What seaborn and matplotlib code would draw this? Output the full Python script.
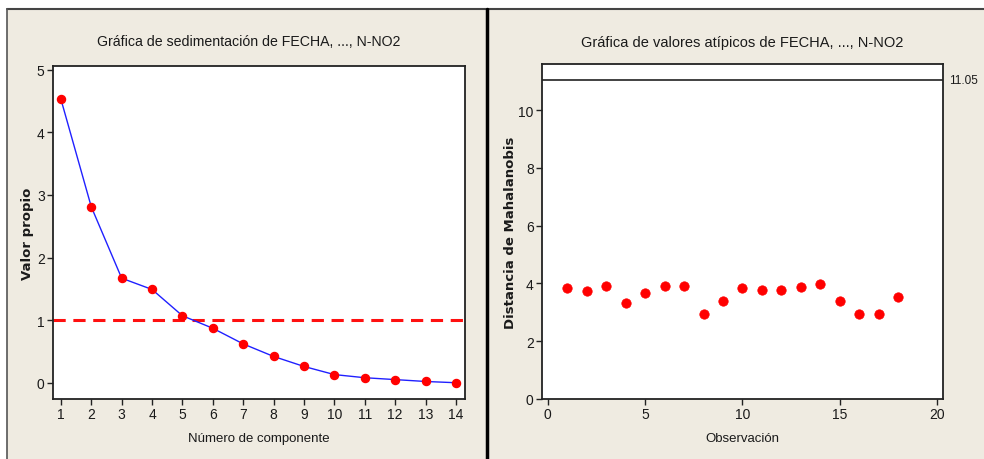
import matplotlib
matplotlib.use("Agg")
import matplotlib.pyplot as plt
import seaborn as sns
import pandas as pd
from matplotlib.patches import Rectangle
from matplotlib.lines import Line2D

# ---- data ----
componentes = list(range(1, 15))
valores_propios = [4.53, 2.81, 1.67, 1.49, 1.07, 0.87, 0.62, 0.42, 0.26, 0.13, 0.08, 0.05, 0.02, 0.00]
linea_ref_propio = 1.0

observaciones = list(range(1, 19))
distancias = [3.85, 3.74, 3.93, 3.32, 3.68, 3.93, 3.91, 2.95, 3.40, 3.83,
              3.77, 3.77, 3.89, 3.98, 3.40, 2.93, 2.93, 3.54]
limite_mahal = 11.05

titulo_izq = "Gráfica de sedimentación de FECHA, ..., N-NO2"
titulo_der = "Gráfica de valores atípicos de FECHA, ..., N-NO2"

sns.set_theme(style="white")
plt.rcParams['font.family'] = ['Liberation Sans', 'DejaVu Sans']

W, H = 984, 460
fig = plt.figure(figsize=(W / 100, H / 100), dpi=100, facecolor="white")

beige = "#EFEBE1"
def px(x0, y0, w, h):
    return (x0 / W, 1 - (y0 + h) / H, w / W, h / H)

# panel backgrounds
for (x0, w) in [(7, 480), (488, 496)]:
    l, b, ww, hh = px(x0, 10, w, 450)
    fig.patches.append(Rectangle((l, b), ww, hh, transform=fig.transFigure,
                                 facecolor=beige, edgecolor="none", zorder=-10))
# borders
fig.lines.append(Line2D([7 / W, 1], [1 - 10 / H, 1 - 10 / H], transform=fig.transFigure,
                        color="#444444", lw=1.5, zorder=-5))
fig.lines.append(Line2D([7 / W, 7 / W], [0, 1 - 10 / H], transform=fig.transFigure,
                        color="#555555", lw=1.2, zorder=-5))
fig.lines.append(Line2D([487 / W, 487 / W], [0, 1 - 10 / H], transform=fig.transFigure,
                        color="black", lw=2.5, zorder=-5))

ax1 = fig.add_axes(px(53, 67, 412, 333))
ax2 = fig.add_axes(px(542, 65, 401, 335))

df1 = pd.DataFrame({"comp": componentes, "val": valores_propios})
df2 = pd.DataFrame({"obs": observaciones, "dist": distancias})

txt = "#1a1a1a"

# left: scree plot
ax1.axhline(linea_ref_propio, color="#FF1010", lw=2.2, ls=(0, (4, 2.5)), zorder=1)
sns.lineplot(data=df1, x="comp", y="val", ax=ax1, color="#2020FF", lw=1.0, zorder=2)
ax1.plot(componentes, valores_propios, ls="none", marker="o", ms=5.8,
         color="#FF0000", mec="#FF0000", zorder=3)
ax1.set_xlim(0.74, 14.3)
ax1.set_ylim(-0.26, 5.06)
ax1.set_xticks(componentes)
ax1.set_yticks([0, 1, 2, 3, 4, 5])
ax1.set_xlabel("Número de componente", fontsize=9.5, color=txt, labelpad=8)
ax1.set_ylabel("Valor propio", fontsize=9.5, fontweight="bold", color=txt,
               family=['DejaVu Sans'], labelpad=2)
ax1.set_title(titulo_izq, fontsize=10.2, color=txt, pad=15, x=0.475)

# right: outlier plot
ax2.axhline(limite_mahal, color="#333333", lw=1.3, zorder=1)
sns.scatterplot(data=df2, x="obs", y="dist", ax=ax2, color="#FF0000", s=46,
                edgecolor="#FF0000", linewidth=0.5, zorder=3)
ax2.set_xlim(-0.3, 20.3)
ax2.set_ylim(0, 11.6)
ax2.set_xticks([0, 5, 10, 15, 20])
ax2.set_yticks([0, 2, 4, 6, 8, 10])
ax2.set_xlabel("Observación", fontsize=9.5, color=txt, labelpad=8)
ax2.set_ylabel("Distancia de Mahalanobis", fontsize=9.5, fontweight="bold",
               color=txt, family=['DejaVu Sans'], labelpad=1)
ax2.set_title(titulo_der, fontsize=10.5, color=txt, pad=13)
ax2.text(1.015, limite_mahal, f"{limite_mahal:.2f}", transform=ax2.get_yaxis_transform(),
         ha="left", va="center", fontsize=8.5, color=txt)

for ax in (ax1, ax2):
    ax.set_facecolor("white")
    for sp in ax.spines.values():
        sp.set_color("#222222")
        sp.set_linewidth(1.3)
        sp.set_visible(True)
    ax.tick_params(axis="both", which="both", direction="out", length=4, width=1,
                   color="#222222", labelsize=10, labelcolor=txt,
                   left=True, bottom=True, right=False, top=False, pad=2)
    ax.grid(False)

fig.savefig("out.png", dpi=100, facecolor="white")
